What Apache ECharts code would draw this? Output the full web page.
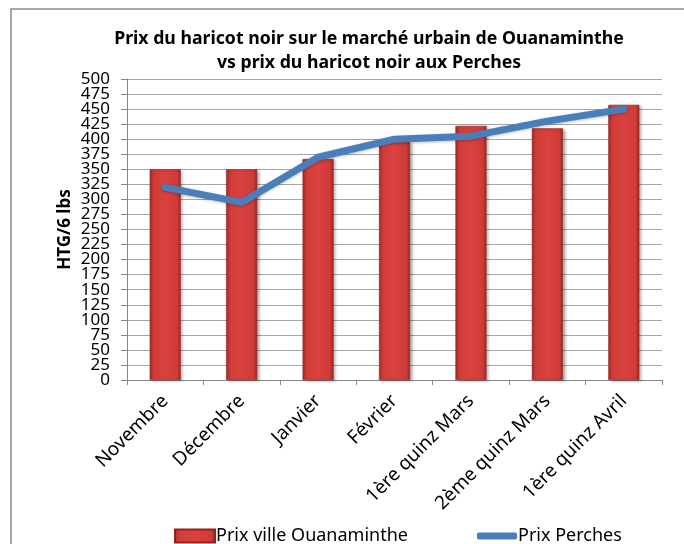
<!DOCTYPE html>
<html>
<head>
<meta charset="utf-8">
<script src="https://cdn.jsdelivr.net/npm/echarts@6/dist/echarts.min.js"></script>
<style>
  html, body { margin: 0; padding: 0; background: #fff; }
  #chart { width: 684px; height: 544px; }
</style>
</head>
<body>
<div id="chart"></div>
<script>
// categories (x axis)
const categories = ["Novembre", "Décembre", "Janvier", "Février", "1ère quinz Mars", "2ème quinz Mars", "1ère quinz Avril"];
// prix sur le marché urbain de Ouanaminthe (barres)
const prixOuanaminthe = [350, 350, 367, 396, 422, 418, 457];
// prix aux Perches (ligne)
const prixPerches = [320, 295, 370, 400, 405, 430, 450];
// graduations de l'axe vertical
const yTickLabels = ["0", "25", "50", "75", "100", "125", "150", "175", "200", "225", "250",
  "275", "300", "325", "350", "375", "400", "425", "450", "475", "500"];

const FONT = "Noto Sans";

const chart = echarts.init(document.getElementById("chart"));

// couleur des barres, effet relief
const barColor = new echarts.graphic.LinearGradient(0, 0, 1, 0, [
  { offset: 0, color: "#a52a26" },
  { offset: 0.12, color: "#d23d39" },
  { offset: 0.5, color: "#d9423e" },
  { offset: 0.88, color: "#cf3b37" },
  { offset: 1, color: "#9c2824" },
]);

const option = {
  backgroundColor: "#ffffff",
  animation: false,
  textStyle: { fontFamily: FONT },
  title: {
    text: "Prix du haricot noir sur le marché urbain de Ouanaminthe\nvs prix du haricot noir aux Perches",
    left: 364,
    top: 22,
    textAlign: "center",
    textStyle: {
      fontFamily: FONT,
      fontSize: 17.7,
      fontWeight: "bold",
      color: "#000",
      lineHeight: 24,
    },
  },
  graphic: [
    {
      type: "rect",
      shape: { x: 11, y: 9, width: 720, height: 600 },
      style: { fill: "none", stroke: "#8a8a8a", lineWidth: 1.5 },
      silent: true,
    },
  ],
  grid: {
    left: 127,
    right: 22,
    top: 79,
    bottom: 164,
  },
  legend: [
    {
      top: 522,
      left: 169,
      itemWidth: 40,
      itemHeight: 13,
      textStyle: { fontFamily: FONT, fontSize: 18, color: "#000", padding: [0, 0, 0, -4] },
      data: [{ name: "Prix ville Ouanaminthe", icon: "rect" }],
    },
    {
      top: 522,
      left: 472,
      itemWidth: 40,
      itemHeight: 7,
      textStyle: { fontFamily: FONT, fontSize: 18, color: "#000", padding: [0, 0, 0, -4] },
      data: [{ name: "Prix Perches", icon: "roundRect" }],
    },
  ],
  xAxis: {
    type: "category",
    data: categories,
    axisLine: { lineStyle: { color: "#868686", width: 1 } },
    axisTick: { show: true, length: 5, lineStyle: { color: "#868686" } },
    axisLabel: {
      rotate: 45,
      margin: 18,
      fontFamily: FONT,
      fontSize: 19,
      color: "#000",
      interval: 0,
    },
  },
  yAxis: [
    {
      type: "value",
      min: 0,
      max: 500,
      interval: 25,
      name: "HTG/6 lbs",
      nameLocation: "middle",
      nameGap: 53,
      nameTextStyle: { fontFamily: FONT, fontSize: 17, fontWeight: "bold", color: "#000" },
      axisLine: { show: true, lineStyle: { color: "#868686", width: 1 } },
      axisTick: { show: true, length: 6, lineStyle: { color: "#868686" } },
      axisLabel: { show: false },
      splitLine: { show: true, lineStyle: { color: "#a6a6a6", width: 1 } },
    },
    {
      // axe de libellés seul : toutes les graduations affichées
      type: "category",
      position: "left",
      data: yTickLabels,
      boundaryGap: false,
      axisLine: { show: false },
      axisTick: { show: false },
      splitLine: { show: false },
      axisLabel: {
        interval: 0,
        margin: 17,
        fontFamily: FONT,
        fontSize: 17,
        color: "#000",
      },
    },
  ],
  series: [
    {
      name: "Prix ville Ouanaminthe",
      type: "bar",
      data: prixOuanaminthe,
      barWidth: 31,
      itemStyle: {
        color: barColor,
        borderColor: "#8e2320",
        borderWidth: 0.5,
        shadowBlur: 3,
        shadowColor: "rgba(0,0,0,0.35)",
        shadowOffsetX: 2,
        shadowOffsetY: 1,
      },
    },
    {
      name: "Prix Perches",
      type: "line",
      data: prixPerches,
      symbol: "none",
      z: 5,
      lineStyle: {
        color: "#4a7ebb",
        width: 7,
        cap: "round",
        join: "round",
        shadowBlur: 3,
        shadowColor: "rgba(0,0,0,0.25)",
        shadowOffsetY: 1,
      },
      itemStyle: { color: "#4a7ebb" },
    },
  ],
};

chart.setOption(option);
</script>
</body>
</html>
